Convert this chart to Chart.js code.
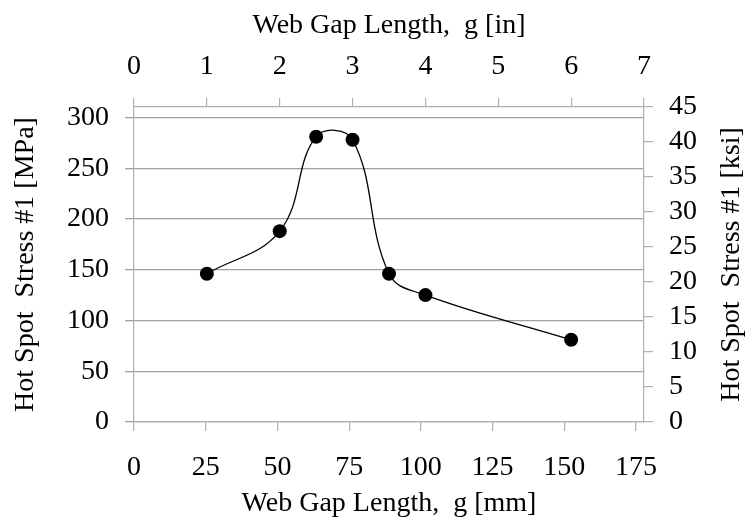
<!DOCTYPE html>
<html>
<head>
<meta charset="utf-8">
<script src="https://cdn.jsdelivr.net/npm/chart.js@4"></script>
<style>
  body { margin: 0; background: #fff; }
  #stressChart { display: block; }
</style>
</head>
<body>
<canvas id="stressChart" width="747" height="525"></canvas>
<script>
// Hot spot stress vs web gap length
const gapMm = [25.4, 50.8, 63.5, 76.2, 88.9, 101.6, 152.4];
const stressMpa = [146, 188, 281, 278, 146, 125, 81];

// tick labels of the four axes
const mmTicks = [0, 25, 50, 75, 100, 125, 150, 175];
const inTicks = [0, 1, 2, 3, 4, 5, 6, 7];
const mpaTicks = [0, 50, 100, 150, 200, 250, 300];
const ksiTicks = [0, 5, 10, 15, 20, 25, 30, 35, 40, 45];

const MM_PER_IN = 25.4;
const MPA_PER_KSI = 6.894757;

const axisGray = "#b0b0b0";
const gridGray = "#a0a0a0";
const fontFamily = "'Liberation Serif', 'Times New Roman', serif";

Chart.defaults.font.family = fontFamily;
Chart.defaults.color = "#000";

const tickFont = { size: 28 };
const titleFont = { size: 28, lineHeight: 1 };

const setTicks = (values) => (scale) => {
    scale.ticks = values.map((v) => ({ value: v }));
};

// right axis title reads bottom-to-top like the left one
const rightTitle = {
    id: "rightTitle",
    afterDraw(chart) {
        const s = chart.scales.y2;
        const ctx = chart.ctx;
        ctx.save();
        ctx.translate(732, (s.top + s.bottom) / 2);
        ctx.rotate(-Math.PI / 2);
        ctx.font = "28px " + fontFamily;
        ctx.fillStyle = "#000";
        ctx.textAlign = "center";
        ctx.textBaseline = "middle";
        ctx.fillText(s.options.title.text, 0, 0);
        ctx.restore();
    },
};

new Chart(document.getElementById("stressChart"), {
    type: "line",
    data: {
        datasets: [{
            data: gapMm.map((g, i) => ({ x: g, y: stressMpa[i] })),
            xAxisID: "x",
            yAxisID: "y",
            borderColor: "#000",
            borderWidth: 1.3,
            tension: 0.4,
            pointRadius: 7,
            pointBackgroundColor: "#000",
            pointBorderWidth: 0,
            fill: false,
        }],
    },
    options: {
        responsive: false,
        animation: false,
        layout: { padding: 0 },
        plugins: {
            legend: { display: false },
            tooltip: { enabled: false },
        },
        scales: {
            x: {
                type: "linear",
                position: "bottom",
                min: 0,
                max: 7 * MM_PER_IN,
                afterBuildTicks: setTicks(mmTicks),
                afterFit: (s) => { s.height = 103; },
                ticks: { font: tickFont, padding: 20, maxRotation: 0, autoSkip: false },
                grid: { drawOnChartArea: false, tickLength: 9, color: axisGray, lineWidth: 1.2 },
                border: { color: axisGray, width: 1.2 },
                title: { display: true, text: "Web Gap Length,  g [mm]", font: titleFont, padding: { top: 0, bottom: 7 } },
            },
            x2: {
                type: "linear",
                position: "top",
                min: 0,
                max: 7,
                afterBuildTicks: setTicks(inTicks),
                afterFit: (s) => { s.height = 107; },
                ticks: { font: tickFont, padding: 15, maxRotation: 0, autoSkip: false },
                grid: { drawOnChartArea: false, tickLength: 9, color: axisGray, lineWidth: 1.2 },
                border: { color: axisGray, width: 1.2 },
                title: { display: true, text: "Web Gap Length,  g [in]", font: titleFont, padding: { top: 12, bottom: 0 } },
            },
            y: {
                type: "linear",
                position: "left",
                min: 0,
                max: 45 * MPA_PER_KSI,
                afterBuildTicks: setTicks(mpaTicks),
                afterFit: (s) => { s.width = 134; },
                ticks: { font: tickFont, padding: 16, autoSkip: false },
                grid: { tickLength: 9, color: gridGray, lineWidth: 1.3 },
                border: { color: axisGray, width: 1.2 },
                title: { display: true, text: "Hot Spot  Stress #1 [MPa]", font: titleFont, padding: { top: 12, bottom: 0 } },
            },
            y2: {
                type: "linear",
                position: "right",
                min: 0,
                max: 45,
                afterBuildTicks: setTicks(ksiTicks),
                afterFit: (s) => { s.width = 103; },
                ticks: { font: tickFont, padding: 16, autoSkip: false },
                grid: { drawOnChartArea: false, tickLength: 9, color: axisGray, lineWidth: 1.2 },
                border: { color: axisGray, width: 1.2 },
                title: { display: false, text: "Hot Spot  Stress #1 [ksi]" },
            },
        },
    },
    plugins: [rightTitle],
});
</script>
</body>
</html>
